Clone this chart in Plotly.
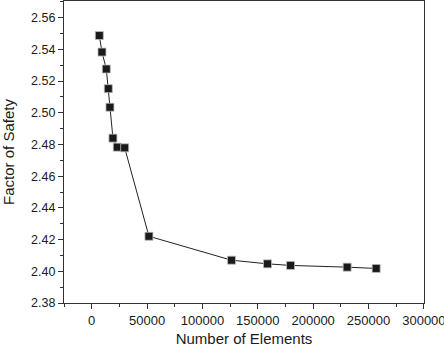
import plotly.graph_objects as go

# mesh size vs factor of safety
n_elements = [6900, 9300, 13200, 15000, 16500, 19200, 23100, 29800,
              51700, 126300, 158800, 179600, 230700, 256900]
factor_of_safety = [2.5487, 2.5383, 2.5276, 2.5152, 2.5035, 2.4840, 2.4783, 2.4779,
                    2.4221, 2.4070, 2.4047, 2.4037, 2.4026, 2.4018]

x_ticks = [0, 50000, 100000, 150000, 200000, 250000, 300000]
y_ticks = [2.38, 2.40, 2.42, 2.44, 2.46, 2.48, 2.50, 2.52, 2.54, 2.56]

font = "Liberation Sans, Arial, sans-serif"
narrow = "Liberation Sans Narrow, Arial Narrow, Liberation Sans, sans-serif"

fig = go.Figure()
fig.add_trace(go.Scatter(
    x=n_elements,
    y=factor_of_safety,
    mode="lines+markers",
    line=dict(color="#222222", width=1),
    marker=dict(symbol="square", size=8, color="#1a1a1a",
                line=dict(color="#bbbbbb", width=0.8)),
    showlegend=False,
))

axis_common = dict(
    showline=True, linecolor="#333333", linewidth=1.3, mirror=True,
    ticks="outside", ticklen=5, tickwidth=1, tickcolor="#333333",
    showgrid=False, zeroline=False, automargin=False,
    ticklabeloverflow="allow",
)

fig.update_xaxes(
    range=[-25000, 300100], tickvals=x_ticks,
    ticktext=[str(v) for v in x_ticks],
    tickfont=dict(family=narrow, size=13, color="#1a1a1a"),
    minor=dict(ticks="outside", ticklen=3, dtick=25000, tick0=0, tickcolor="#333333"),
    title=dict(text="Number of Elements", font=dict(family=font, size=15, color="#1a1a1a"),
               standoff=11),
    **axis_common,
)
fig.update_yaxes(
    range=[2.38, 2.5705], tickvals=y_ticks,
    ticktext=[f"{v:.2f}" for v in y_ticks],
    tickfont=dict(family=font, size=12.5, color="#1a1a1a"),
    minor=dict(ticks="outside", ticklen=3, dtick=0.01, tick0=2.38, tickcolor="#333333"),
    title=dict(text="Factor of Safety", font=dict(family=font, size=15, color="#1a1a1a"),
               standoff=14),
    **axis_common,
)

fig.update_layout(
    width=444, height=347,
    margin=dict(l=64, r=20, t=1, b=44),
    plot_bgcolor="white", paper_bgcolor="white",
)

# the page's default 8px body margin would shift the figure
fig.write_html("out.html", config={"displayModeBar": False},
               post_script="document.body.style.margin='0';")
